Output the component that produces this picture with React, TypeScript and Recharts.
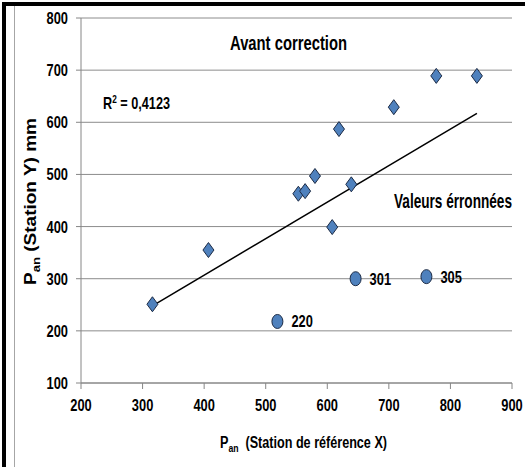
import React from 'react';
import { ScatterChart, Scatter, XAxis, YAxis, CartesianGrid } from 'recharts';

// valeurs
const correctX = [316, 407, 553, 564, 580, 608, 619, 639, 708, 777, 843];
const correctY = [251, 355, 463, 468, 497, 399, 587, 481, 629, 689, 689];
const erroneesX = [519, 646, 761];
const erroneesY = [218, 300, 304];
const erroneesLabels = ['220', '301', '305'];
const trendX = [316, 843];
const trendY = [248, 617];
const xTicks = [200, 300, 400, 500, 600, 700, 800, 900];
const yTicks = [100, 200, 300, 400, 500, 600, 700, 800];

const correctData = correctX.map((x, i) => ({ x, y: correctY[i] }));
const erroneesData = erroneesX.map((x, i) => ({ x, y: erroneesY[i], label: erroneesLabels[i] }));
const trendData = trendX.map((x, i) => ({ x, y: trendY[i] }));

const FONT = "'Liberation Sans', Arial, sans-serif";
const FILL = '#4F81BD';
const EDGE = '#1c2b45';
const NARROW = 0.78; // la police d'origine est étroite

const Diamond = (props: any) => {
  const { cx, cy } = props;
  const w = 5.5;
  const h = 7.5;
  return (
    <path
      d={`M${cx},${cy - h} L${cx + w},${cy} L${cx},${cy + h} L${cx - w},${cy} Z`}
      fill={FILL}
      stroke={EDGE}
      strokeWidth={1}
    />
  );
};

const LabeledDot = (props: any) => {
  const { cx, cy, payload } = props;
  return (
    <g>
      <ellipse cx={cx} cy={cy} rx={5.5} ry={7} fill={FILL} stroke={EDGE} strokeWidth={1} />
      <text
        transform={`translate(${cx + 14}, ${cy + 6}) scale(${NARROW}, 1)`}
        fontFamily={FONT}
        fontWeight="bold"
        fontSize={16.5}
        fill="#000"
      >
        {payload.label}
      </text>
    </g>
  );
};

const XTick = (props: any) => {
  const { x, y, payload } = props;
  return (
    <text
      transform={`translate(${x}, ${y + 12}) scale(${NARROW}, 1)`}
      textAnchor="middle"
      fontFamily={FONT}
      fontWeight="bold"
      fontSize={16.5}
      fill="#000"
    >
      {payload.value}
    </text>
  );
};

const YTick = (props: any) => {
  const { x, y, payload } = props;
  return (
    <text
      transform={`translate(${x}, ${y + 6}) scale(${NARROW}, 1)`}
      textAnchor="end"
      fontFamily={FONT}
      fontWeight="bold"
      fontSize={16.5}
      fill="#000"
    >
      {payload.value}
    </text>
  );
};

const App: React.FC = () => {
  return (
    <div style={{ position: 'relative', width: 525, height: 467, background: '#fff' }}>
      <style>{`body{margin:0}`}</style>
      <ScatterChart
        width={525}
        height={467}
        margin={{ top: 18, right: 13, bottom: 0, left: 0 }}
      >
        <CartesianGrid vertical={false} stroke="#8c8c8c" strokeWidth={1} />
        <XAxis
          type="number"
          dataKey="x"
          domain={[200, 900]}
          ticks={xTicks}
          height={84}
          stroke="#868686"
          tickSize={6}
          tickMargin={10}
          tick={<XTick />}
        />
        <YAxis
          type="number"
          dataKey="y"
          domain={[100, 800]}
          ticks={yTicks}
          width={81}
          stroke="#868686"
          tickSize={5}
          tickMargin={8}
          tick={<YTick />}
        />
        <Scatter
          data={trendData}
          line={{ stroke: '#000', strokeWidth: 1.5 }}
          shape={() => <g />}
          isAnimationActive={false}
        />
        <Scatter data={correctData} shape={Diamond} isAnimationActive={false} />
        <Scatter data={erroneesData} shape={LabeledDot} isAnimationActive={false} />
      </ScatterChart>

      <svg
        width={525}
        height={467}
        style={{ position: 'absolute', left: 0, top: 0, pointerEvents: 'none' }}
      >
        <text x={230} y={50} textLength={117} lengthAdjust="spacingAndGlyphs"
          fontFamily={FONT} fontWeight="bold" fontSize={21}>
          Avant correction
        </text>
        <text x={103} y={109} textLength={67} lengthAdjust="spacingAndGlyphs"
          fontFamily={FONT} fontWeight="bold" fontSize={17}>
          R<tspan fontSize={11} dy={-6}>2</tspan><tspan dy={6}> = 0,4123</tspan>
        </text>
        <text x={394} y={208} textLength={118} lengthAdjust="spacingAndGlyphs"
          fontFamily={FONT} fontWeight="bold" fontSize={21}>
          Valeurs érronnées
        </text>
        <text x={220} y={448} textLength={167} lengthAdjust="spacingAndGlyphs"
          fontFamily={FONT} fontWeight="bold" fontSize={16}>
          P<tspan fontSize={11} dy={4}>an</tspan><tspan dy={-4}>{'\u00a0 (Station de référence X)'}</tspan>
        </text>
        <text
          transform="translate(36, 285) rotate(-90)"
          textLength={167}
          lengthAdjust="spacingAndGlyphs"
          fontFamily={FONT}
          fontWeight="bold"
          fontSize={16}
        >
          P<tspan fontSize={11} dy={4}>an</tspan><tspan dy={-4}>{' (Station Y) mm'}</tspan>
        </text>
      </svg>

      <div style={{ position: 'absolute', left: 2, top: 2, width: 4, height: 465, background: '#000' }} />
      <div style={{ position: 'absolute', left: 2, top: 2, width: 523, height: 4, background: '#000' }} />
      <div style={{ position: 'absolute', left: 14, top: 6, width: 1, height: 461, background: '#a6a6a6' }} />
    </div>
  );
};

export default App;
